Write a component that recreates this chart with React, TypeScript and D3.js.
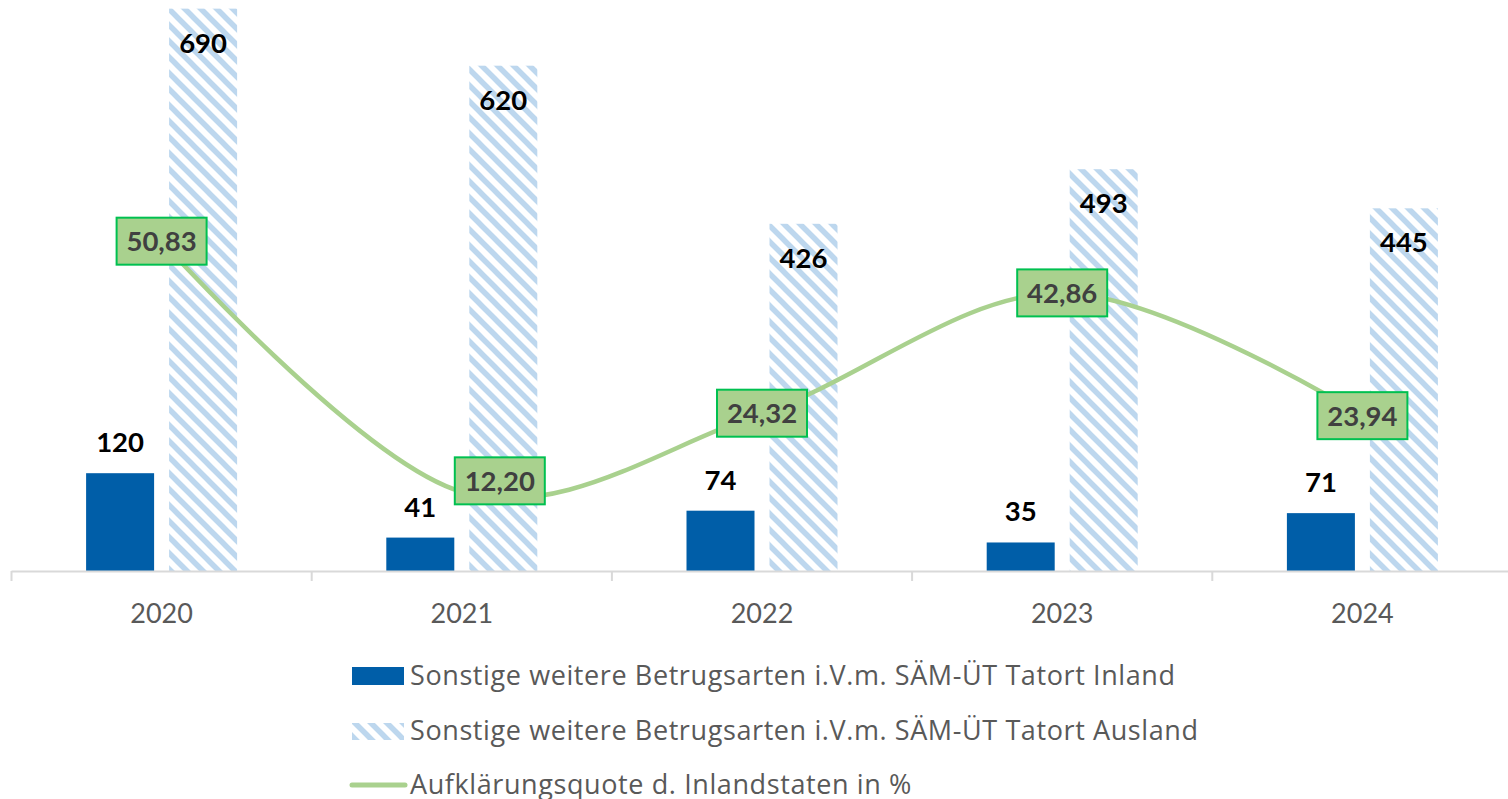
import React from "react";
import * as d3 from "d3";

const years = ["2020", "2021", "2022", "2023", "2024"];
const inland = [120, 41, 74, 35, 71];
const ausland = [690, 620, 426, 493, 445];
const quote = [50.83, 12.2, 24.32, 42.86, 23.94];
const quoteLabels = ["50,83", "12,20", "24,32", "42,86", "23,94"];
const legendLabels = [
  "Sonstige weitere Betrugsarten i.V.m. SÄM-ÜT Tatort Inland",
  "Sonstige weitere Betrugsarten i.V.m. SÄM-ÜT Tatort Ausland",
  "Aufklärungsquote d. Inlandstaten in %",
];

const W = 1508;
const H = 799;
const FONT = "Lato, 'Open Sans', sans-serif";
const LEGEND_FONT = "'Open Sans', Lato, sans-serif";
const BLUE = "#005EA8";
const HATCH = "#BDD7EE";
const GREEN_LINE = "#A9D18E";
const BOX_STROKE = "#00C050";

// manual label nudges (pixel offsets), index-matched with years
const labelNudgeX = [0, 38, 0, 0, 0];
const labelNudgeY = [0, -11, 0, 0, 0];

export default function App() {
  const baseY = 571;
  const x = d3.scaleBand<string>().domain(years).range([11.5, 11.5 + 5 * 300.2]).padding(0);
  const y = d3.scaleLinear().domain([0, 700]).range([baseY, 0.5]);
  const y2 = d3.scaleLinear().domain([0, 88]).range([baseY, 0]);
  const barW = 68;
  const off = 41.5;
  const cx = (yr: string) => (x(yr) as number) + x.bandwidth() / 2;

  const line = d3
    .line<number>()
    .x((_, i) => cx(years[i]))
    .y((d) => y2(d))
    .curve(d3.curveCardinal.tension(0));

  const boundaries = d3.range(years.length + 1).map((i) => 11.5 + i * x.bandwidth());

  return (
    <svg
      width={W}
      height={H}
      style={{ position: "absolute", left: 0, top: 0, background: "#fff" }}
      fontFamily={FONT}
    >
      <defs>
        <pattern id="hatch" patternUnits="userSpaceOnUse" width={16} height={16}>
          <rect width={16} height={16} fill="#fff" />
          <path
            d="M-4,-4 L20,20 M-4,12 L4,20 M12,-4 L20,4"
            stroke={HATCH}
            strokeWidth={5.5}
          />
        </pattern>
      </defs>
      <rect width={W} height={H} fill="#fff" />

      {/* bars */}
      {years.map((yr, i) => (
        <g key={yr}>
          <rect
            x={cx(yr) - off - barW / 2}
            y={y(inland[i])}
            width={barW}
            height={baseY - y(inland[i])}
            fill={BLUE}
          />
          <rect
            x={cx(yr) + off - barW / 2}
            y={y(ausland[i])}
            width={barW}
            height={baseY - y(ausland[i])}
            fill="url(#hatch)"
          />
        </g>
      ))}

      {/* axis */}
      <line x1={boundaries[0]} x2={W + 10} y1={baseY + 0.5} y2={baseY + 0.5} stroke="#D9D9D9" strokeWidth={2} />
      {boundaries.map((b, i) => (
        <line key={i} x1={b} x2={b} y1={baseY} y2={baseY + 10} stroke="#D9D9D9" strokeWidth={2} />
      ))}
      {years.map((yr) => (
        <text key={yr} x={cx(yr)} y={622.5} textAnchor="middle" fontSize={27} fill="#595959">
          {yr}
        </text>
      ))}

      {/* line */}
      <path d={line(quote) || ""} fill="none" stroke={GREEN_LINE} strokeWidth={4.5} />

      {/* bar labels */}
      {years.map((yr, i) => (
        <g key={"l" + yr} fontWeight="bold" fontSize={27.5} fill="#000" textAnchor="middle">
          <text x={cx(yr) - off} y={y(inland[i]) - 21}>
            {inland[i]}
          </text>
          <text x={cx(yr) + off} y={y(ausland[i]) + 44}>
            {ausland[i]}
          </text>
        </g>
      ))}

      {/* quote labels */}
      {years.map((yr, i) => {
        const lx = cx(yr) + labelNudgeX[i];
        const ly = y2(quote[i]) + labelNudgeY[i];
        return (
          <g key={"q" + yr}>
            <rect
              x={lx - 45}
              y={ly - 23.5}
              width={90}
              height={47}
              fill={GREEN_LINE}
              stroke={BOX_STROKE}
              strokeWidth={2}
            />
            <text x={lx} y={ly + 10} textAnchor="middle" fontWeight="bold" fontSize={27.5} fill="#404040">
              {quoteLabels[i]}
            </text>
          </g>
        );
      })}

      {/* legend */}
      <g fontFamily={LEGEND_FONT} fontSize={27} fill="#595959" letterSpacing={0.6}>
        <rect x={352} y={667} width={52} height={18} fill={BLUE} />
        <text x={410} y={685}>
          {legendLabels[0]}
        </text>
        <rect x={352} y={723} width={52} height={17} fill="url(#hatch)" />
        <text x={410} y={740}>
          {legendLabels[1]}
        </text>
        <line x1={352} x2={405} y1={785} y2={785} stroke={GREEN_LINE} strokeWidth={5} strokeLinecap="round" />
        <text x={410} y={794}>
          {legendLabels[2]}
        </text>
      </g>
    </svg>
  );
}
